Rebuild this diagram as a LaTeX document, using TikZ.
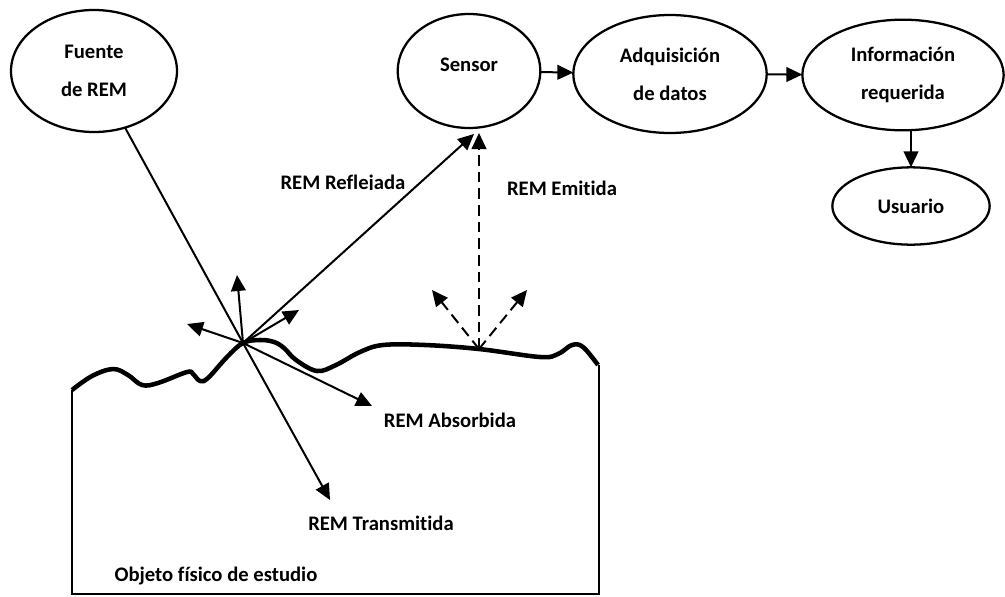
\documentclass[tikz,border=0pt]{standalone}
\usepackage{fontspec}
\setmainfont{Carlito}[Ligatures=CommonOff]
\usetikzlibrary{arrows.meta,shapes.geometric}

\begin{document}
\begin{tikzpicture}[x=0.75pt,y=-0.75pt,
        font=\fontsize{15.5}{28.5}\selectfont\bfseries,
        caja/.style={ellipse, draw, line width=1.7pt, inner sep=0pt, outer sep=0pt, align=center},
        flecha/.style={line width=1.5pt, -{Triangle[length=12pt,width=11pt]}},
        rayo/.style={line width=1.5pt},
        emision/.style={flecha, dash pattern=on 8pt off 4.5pt}]
        \useasboundingbox (0,0) rectangle (1005,596);

        % Elipses
        \node[caja, minimum width=124.5pt, minimum height=91.5pt] (fuente) at (94,71) {Fuente\\de REM};
        \node[caja, minimum width=107pt, minimum height=85.5pt] (sensor) at (469,71) {};
        \node (tsensor) at (469,65) {Sensor};
        \node[caja, minimum width=145pt, minimum height=88.5pt] (adq) at (670,74) {Adquisición\\de datos};
        \node[caja, minimum width=151pt, minimum height=83pt] (info) at (903,75) {Información\\requerida};
        \node[caja, minimum width=118pt, minimum height=58pt] (usuario) at (911,206) {Usuario};

        % Flechas entre elipses
        \draw[flecha] (sensor) -- (adq);
        \draw[flecha] (adq) -- (info);
        \draw[flecha] (info.south -| usuario.north) -- (usuario.north);

        % Objeto y superficie
        \draw[line width=2.2pt] (72,390) -- (72,594) -- (599,594) -- (599,365);
        \draw[line width=3.4pt, line join=round] plot[smooth, tension=0.6] coordinates {
            (72,390) (92,376) (113,369) (128,375) (142,385) (158,383) (187,372) (193,374)
            (200,381) (208,378) (227,357) (243,343) (260,340) (274,342) (284,348) (296,360)
            (317,371) (336,365) (360,352) (383,345) (425,345) (479,349) (540,357) (558,354)
            (572,345) (583,347) (598,365)};

        % Puntos
        \coordinate (P) at (243,343);
        \coordinate (E) at (479,349);
        \coordinate (arriba) at (237,275);
        \coordinate (izq) at (187,324);
        \coordinate (der) at (299,310);
        \coordinate (abs) at (372,406);
        \coordinate (trans) at (330,500);
        \coordinate (refl) at (474,134);
        \coordinate (emi) at (479,133);
        \coordinate (emiizq) at (432,290);
        \coordinate (emider) at (527,290);

        % Rayos
        \draw[rayo] (fuente) -- (P);
        \draw[flecha] (P) -- (trans);
        \draw[flecha] (P) -- (abs);
        \draw[flecha] (P) -- (refl);
        \draw[flecha] (P) -- (arriba);
        \draw[flecha] (P) -- (izq);
        \draw[flecha] (P) -- (der);
        \draw[emision] (E) -- (emi);
        \draw[emision] (E) -- (emiizq);
        \draw[emision] (E) -- (emider);

        % Textos
        \begin{scope}
            \clip (270,160) rectangle (420,189.5);
            \node (treflejada) at (343,184) {REM Reflejada};
        \end{scope}
        \node (temitida) at (562,188) {REM Emitida};
        \node (tabsorbida) at (450,420) {REM Absorbida};
        \node (ttransmitida) at (381,523) {REM Transmitida};
        \node (tobjeto) at (216,576) {Objeto físico de estudio};
\end{tikzpicture}
\end{document}
